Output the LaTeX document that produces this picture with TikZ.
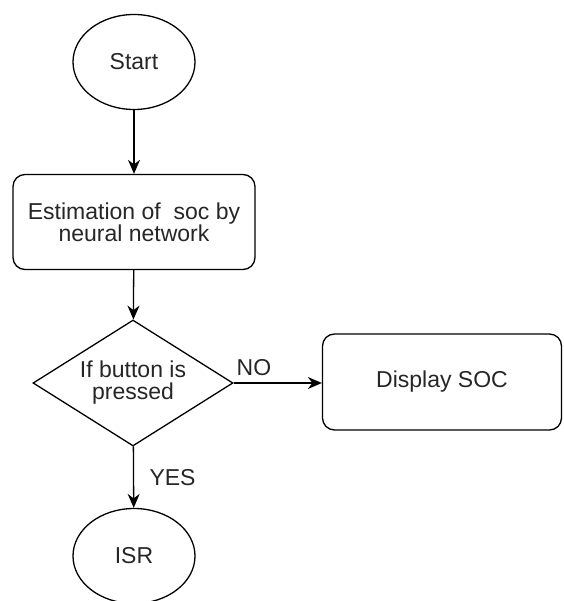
\documentclass[tikz,border=0pt]{standalone}
\usepackage{fontspec}
\setmainfont{Liberation Sans}
\usetikzlibrary{shapes.geometric,arrows.meta}
\begin{document}
\begin{tikzpicture}[x=1pt,y=-1pt,
  every node/.style={font=\fontsize{23}{22}\selectfont,text=black!85},
  terminal/.style={draw,ellipse,line width=1.3pt,minimum width=122pt,minimum height=95pt},
  process/.style={draw,rounded corners=12pt,line width=1.3pt,align=center},
  decision/.style={draw,diamond,aspect=1.59,inner sep=0pt,line width=1.3pt,align=center,minimum width=200pt,minimum height=126pt},
  flow/.style={-{Stealth[length=14pt,width=12pt]},line width=1.3pt}]
\useasboundingbox (0,0) rectangle (563,601);
\node[terminal] (S) at (134,62) {Start};
\node[process,minimum width=242pt,minimum height=95pt] (E) at (134,222) {Estimation of \ soc by\\neural network};
\node[decision] (B) at (133,383) {If button is\\pressed};
\node[process,minimum width=239pt,minimum height=96pt] (D) at (442,382) {Display SOC};
\node[terminal] (I) at (134,556) {ISR};
\draw[flow] (S) -- (E);
\draw[flow] (E) -- (B);
\draw[flow] (B.east) -- node[pos=0.23,above,yshift=3pt]{NO} (D.west |- B.east);
\draw[flow] (B) -- node[midway,right,xshift=12pt]{YES} (I);
\end{tikzpicture}
\end{document}
